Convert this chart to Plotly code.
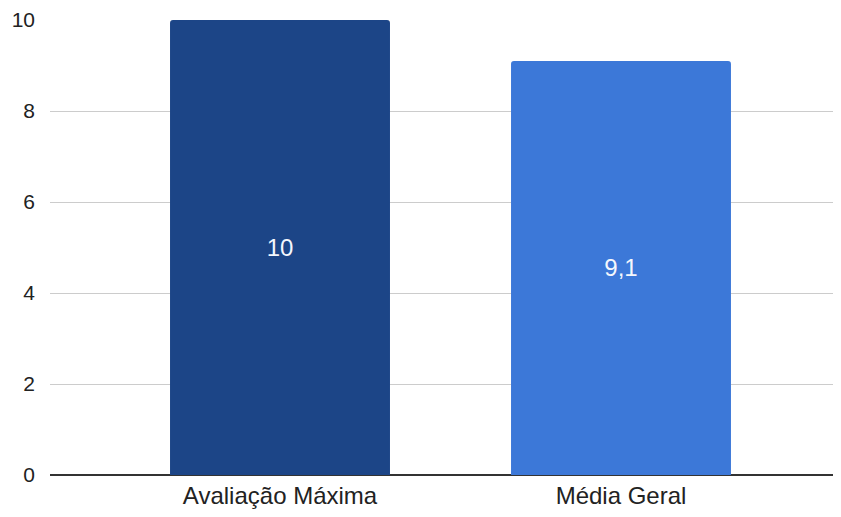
import plotly.graph_objects as go

# dados do gráfico
categorias = ["Avaliação Máxima", "Média Geral"]
notas = [10, 9.1]
cores = ["#1c4587", "#3c78d8"]

fig = go.Figure(go.Bar(
    x=categorias,
    y=notas,
    width=0.645,
    marker=dict(color=cores, line=dict(width=0), cornerradius=3),
    texttemplate="%{y:.1~f}",
    textposition="inside",
    insidetextanchor="middle",
    textangle=0,
    textfont=dict(color="#f4f7fd", size=24, family="Liberation Sans, Arial, sans-serif"),
    hoverinfo="skip",
))

# o body da página tem margem de 8px; tamanho reduzido para não haver barras de rolagem
fig.update_layout(
    width=825,
    height=501,
    margin=dict(l=42, r=0, t=12, b=34),
    paper_bgcolor="white",
    plot_bgcolor="white",
    separators=",.",
    showlegend=False,
    font=dict(family="Liberation Sans, Arial, sans-serif", size=22, color="#333333"),
    uniformtext=dict(minsize=8, mode="show"),
)

fig.update_xaxes(
    range=[-0.6745, 1.6217],
    showgrid=False,
    showline=False,
    ticks="",
    ticklabelstandoff=4,
    automargin=False,
    tickfont=dict(size=24, color="#222222"),
)

fig.update_yaxes(
    range=[0, 10],
    dtick=2,
    showgrid=True,
    gridcolor="#cccccc",
    gridwidth=1,
    zeroline=True,
    zerolinecolor="#333333",
    zerolinewidth=1.5,
    showline=False,
    ticks="",
    ticklabelstandoff=14,
    ticklabeloverflow="allow",
    automargin=False,
    tickfont=dict(size=21, color="#222222"),
)

fig.write_html("out.html")
